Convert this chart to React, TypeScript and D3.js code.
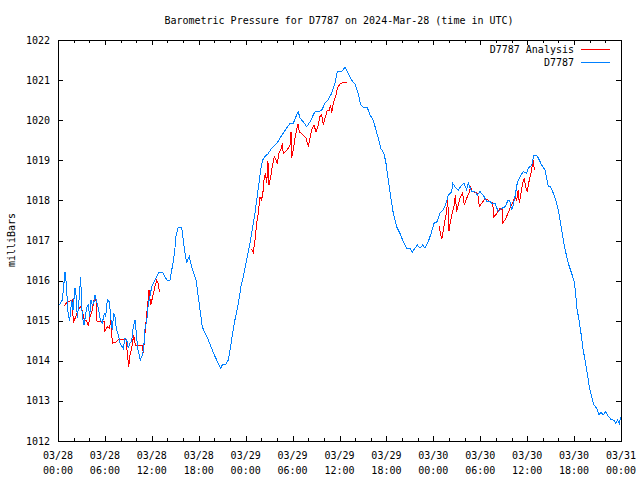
import React from "react";
import * as d3 from "d3";

// ---- data (time in hours since 2024-03-28 00:00 UTC, pressure in mbar) ----
const stationSeries: [number, number][] = [
  [0, 1015.40], [0.26, 1015.41], [0.55, 1015.52], [0.9, 1016.21], [1.02, 1016.01], [1.32, 1015.10], [1.5, 1015.02],
  [1.75, 1015.52], [1.92, 1015.27], [2.17, 1015.82], [2.34, 1015.60], [2.47, 1015.07], [2.69, 1015.52], [2.9, 1016.10],
  [3.03, 1015.32], [3.2, 1015.02], [3.32, 1014.89], [3.67, 1015.32], [3.87, 1015.39], [4.05, 1015.10], [4.22, 1015.52],
  [4.39, 1015.39], [4.6, 1015.47], [4.73, 1015.64], [4.9, 1015.52], [5.15, 1015.32], [5.41, 1015.02], [5.66, 1014.94],
  [5.92, 1015.18], [6.1, 1015.10], [6.3, 1015.52], [6.56, 1015.47], [6.78, 1015.02], [6.94, 1014.77], [7.12, 1015.20],
  [7.29, 1015.10], [7.46, 1014.81], [7.76, 1014.60], [7.93, 1014.44], [8.15, 1014.37], [8.35, 1014.31], [8.57, 1014.56],
  [8.79, 1014.52], [8.99, 1014.31], [9.21, 1014.44], [9.42, 1014.48], [9.63, 1014.85], [9.85, 1015.02], [10.01, 1014.69],
  [10.19, 1014.31], [10.52, 1014.02], [10.78, 1014.14], [10.96, 1014.31], [11.13, 1014.81], [11.34, 1014.98], [11.55, 1015.43],
  [11.76, 1015.60], [11.98, 1015.85], [12.28, 1015.97], [12.62, 1016.10], [12.92, 1016.21], [13.34, 1016.21], [13.68, 1016.10],
  [13.94, 1016.01], [14.32, 1016.01], [14.54, 1016.26], [14.74, 1016.47], [14.96, 1016.81], [15.05, 1017.09], [15.38, 1017.33],
  [15.82, 1017.33], [16.02, 1017.01], [16.24, 1016.68], [16.46, 1016.43], [16.66, 1016.56], [16.79, 1016.61], [16.97, 1016.43],
  [17.3, 1016.22], [17.65, 1016.01], [17.94, 1015.60], [18.16, 1015.27], [18.45, 1014.85], [18.8, 1014.69], [19.22, 1014.52],
  [19.65, 1014.31], [19.86, 1014.20], [20.29, 1014.02], [20.81, 1013.81], [21.06, 1013.92], [21.48, 1013.92], [21.78, 1014.02],
  [22, 1014.27], [22.34, 1014.69], [22.63, 1015.02], [23.06, 1015.43], [23.4, 1015.85], [23.79, 1016.18], [24.21, 1016.60],
  [24.55, 1016.93], [24.9, 1017.34], [25.19, 1017.68], [25.41, 1018.01], [25.7, 1018.43], [25.92, 1018.76], [26.18, 1019.01],
  [26.47, 1019.09], [26.89, 1019.17], [27.33, 1019.30], [27.97, 1019.42], [28.39, 1019.55], [28.9, 1019.71], [29.67, 1019.92],
  [30.09, 1019.92], [30.52, 1020.13], [30.73, 1020.21], [30.95, 1020.05], [31.37, 1019.96], [31.8, 1019.84], [32.23, 1019.96],
  [32.65, 1020.13], [32.86, 1020.21], [33.29, 1020.21], [33.72, 1020.25], [34.14, 1020.42], [34.57, 1020.52], [35, 1020.67],
  [35.42, 1020.92], [35.72, 1021.21], [36.28, 1021.21], [36.7, 1021.32], [37.12, 1021.17], [37.56, 1021.00], [37.98, 1020.90],
  [38.4, 1020.67], [38.71, 1020.38], [39.04, 1020.32], [39.55, 1020.32], [39.9, 1020.13], [40.32, 1020.00], [40.66, 1019.76],
  [40.96, 1019.55], [41.27, 1019.30], [41.69, 1019.17], [41.94, 1018.93], [42.24, 1018.51], [42.54, 1018.09], [42.88, 1017.68],
  [43.31, 1017.34], [43.73, 1017.18], [44.16, 1016.97], [44.59, 1016.81], [45.01, 1016.80], [45.31, 1016.71], [45.65, 1016.81],
  [45.95, 1016.89], [46.29, 1016.81], [46.64, 1016.89], [46.93, 1016.81], [47.35, 1016.97], [47.79, 1017.22], [48.08, 1017.43],
  [48.5, 1017.47], [48.85, 1017.68], [49.27, 1017.76], [49.62, 1017.93], [49.91, 1018.13], [50.35, 1018.22], [50.47, 1018.43],
  [50.77, 1018.34], [51.19, 1018.26], [51.62, 1018.38], [51.92, 1018.43], [52.26, 1018.26], [52.47, 1018.43], [52.9, 1018.22],
  [53.32, 1018.22], [53.62, 1018.13], [53.96, 1018.22], [54.39, 1018.13], [54.82, 1017.97], [55.24, 1017.97], [55.46, 1017.93],
  [55.88, 1017.93], [56.3, 1017.72], [56.74, 1017.80], [57.16, 1017.84], [57.58, 1018.01], [57.8, 1017.97], [58.02, 1017.76],
  [58.22, 1017.89], [58.44, 1018.09], [58.73, 1018.43], [59.08, 1018.59], [59.5, 1018.72], [59.94, 1018.68], [60.14, 1018.80],
  [60.58, 1018.88], [60.87, 1019.13], [61.21, 1019.13], [61.55, 1019.01], [61.85, 1018.88], [62.28, 1018.76], [62.7, 1018.34],
  [63, 1018.34], [63.34, 1018.18], [63.77, 1017.93], [64.1, 1017.64], [64.62, 1017.01], [64.96, 1016.68], [65.26, 1016.43],
  [65.69, 1016.18], [66.02, 1015.97], [66.2, 1015.68], [66.33, 1015.35], [66.62, 1015.02], [66.88, 1014.69], [67.1, 1014.35],
  [67.39, 1014.02], [67.69, 1013.69], [67.94, 1013.35], [68.25, 1013.10], [68.54, 1012.90], [68.89, 1012.82], [69.18, 1012.65],
  [69.44, 1012.72], [69.73, 1012.65], [70.04, 1012.73], [70.37, 1012.62], [70.72, 1012.54], [71.1, 1012.51], [71.36, 1012.44],
  [71.57, 1012.52], [71.78, 1012.44], [71.96, 1012.59],
];

const analysisSeg1: [number, number][] = [
  [0.81, 1015.37], [1.11, 1015.45], [1.53, 1015.49], [1.83, 1015.52], [1.96, 1014.94], [2.26, 1015.10], [2.6, 1015.27],
  [2.9, 1015.35], [3.11, 1015.25], [3.36, 1015.02], [3.67, 1014.99], [3.88, 1014.87], [4.09, 1015.10], [4.39, 1015.27],
  [4.6, 1015.52], [4.73, 1015.62], [4.9, 1015.47], [4.99, 1014.99], [5.92, 1014.99], [6.01, 1014.74], [6.3, 1014.85],
  [6.56, 1014.81], [6.78, 1015.02], [6.94, 1014.44], [7.29, 1014.45], [7.71, 1014.52], [8.15, 1014.54], [8.57, 1014.52],
  [8.7, 1014.54], [8.91, 1014.10], [9.04, 1013.85], [9.21, 1014.14], [9.42, 1014.31], [9.68, 1014.64], [9.85, 1014.44],
  [9.97, 1014.37], [10.78, 1014.37], [10.91, 1014.19], [11.13, 1014.69], [11.34, 1015.14], [11.64, 1015.77], [11.85, 1015.39],
  [12.11, 1015.60], [12.4, 1015.85], [12.62, 1016.01], [12.83, 1015.93], [12.96, 1015.72],
];

const analysisSeg2: [number, number][] = [
  [24.77, 1016.78], [24.97, 1016.70], [25.19, 1017.01], [25.41, 1017.43], [25.61, 1017.68], [25.83, 1018.09], [26, 1018.01],
  [26.18, 1018.13], [26.34, 1018.51], [26.51, 1018.68], [26.69, 1018.43], [26.85, 1018.97], [26.98, 1018.38], [27.2, 1018.59],
  [27.4, 1018.84], [27.66, 1019.09], [27.88, 1019.01], [28.04, 1018.93], [28.26, 1019.17], [28.48, 1019.26], [28.69, 1019.42],
  [28.81, 1019.17], [29.24, 1019.24], [29.67, 1019.38], [29.8, 1019.71], [29.88, 1019.05], [30.09, 1019.26], [30.31, 1019.55],
  [30.52, 1019.76], [30.69, 1019.91], [30.86, 1019.71], [31.37, 1019.63], [31.71, 1019.55], [32.01, 1019.36], [32.23, 1019.55],
  [32.44, 1019.76], [32.74, 1019.88], [32.99, 1019.71], [33.29, 1019.88], [33.5, 1020.09], [33.72, 1020.13], [33.93, 1019.88],
  [34.14, 1020.05], [34.44, 1020.25], [34.69, 1020.25], [34.87, 1020.38], [35, 1020.17], [35.2, 1020.42], [35.51, 1020.59],
  [35.72, 1020.80], [36.06, 1020.90], [36.48, 1020.94], [37, 1020.94],
];

const analysisSeg3: [number, number][] = [
  [48.76, 1017.36], [48.94, 1017.14], [49.07, 1017.03], [49.27, 1017.26], [49.49, 1017.51], [49.71, 1017.72], [49.83, 1018.05],
  [50, 1017.24], [50.22, 1017.51], [50.42, 1017.68], [50.68, 1017.89], [50.81, 1018.13], [50.98, 1017.72], [51.19, 1017.89],
  [51.41, 1018.05], [51.75, 1018.18], [51.96, 1017.89], [52.26, 1018.05], [52.56, 1018.18], [52.77, 1018.33], [52.98, 1018.22],
  [53.62, 1018.18], [53.75, 1018.09], [53.88, 1017.84], [54.18, 1017.93], [54.48, 1018.01], [54.82, 1018.03], [55.24, 1017.97],
  [55.59, 1017.94], [55.75, 1017.59], [56.18, 1017.69], [56.52, 1017.80], [56.78, 1017.78], [56.87, 1017.44], [57.16, 1017.51],
  [57.46, 1017.64], [57.71, 1017.76], [58.02, 1017.89], [58.22, 1017.97], [58.44, 1018.09], [58.66, 1018.01], [58.86, 1018.26],
  [58.99, 1017.93], [59.21, 1018.18], [59.42, 1018.43], [59.63, 1018.55], [59.81, 1018.34], [60.02, 1018.22], [60.27, 1018.51],
  [60.49, 1018.68], [60.66, 1018.88], [60.79, 1019.01], [60.91, 1018.76],
];

const yTicks = [1012, 1013, 1014, 1015, 1016, 1017, 1018, 1019, 1020, 1021, 1022];
const xMajorHours = [0, 6, 12, 18, 24, 30, 36, 42, 48, 54, 60, 66, 72];
const xTickDates = ["03/28", "03/28", "03/28", "03/28", "03/29", "03/29", "03/29", "03/29", "03/30", "03/30", "03/30", "03/30", "03/31"];
const xTickTimes = ["00:00", "06:00", "12:00", "18:00", "00:00", "06:00", "12:00", "18:00", "00:00", "06:00", "12:00", "18:00", "00:00"];
const xMinorHours = d3.range(0, 73, 2).filter((h) => h % 6 !== 0);

const titleText = "Barometric Pressure for D7787 on 2024-Mar-28 (time in UTC)";
const yLabel = "milliBars";
const seriesNames = ["D7787 Analysis", "D7787"];

const RED = "#ff0000";
const BLUE = "#0080ff";
const FONT = "'DejaVu Sans Mono', 'Liberation Mono', monospace";

export default function App() {
  const W = 640, H = 480;
  const left = 58, right = 621, top = 40, bottom = 441;
  const x = d3.scaleLinear().domain([0, 72]).range([left, right]);
  const y = d3.scaleLinear().domain([1012, 1022]).range([bottom, top]);
  const line = d3.line<[number, number]>().x((d) => x(d[0])).y((d) => y(d[1]));
  const majorLen = 5, minorLen = 3;

  return (
    <svg width={W} height={H} style={{ position: "absolute", left: 0, top: 0, background: "#fff" }} fontFamily={FONT} fontSize={10}>
      <rect x={0} y={0} width={W} height={H} fill="#fff" />
      <text x={339} y={24} textAnchor="middle" fill="#000">{titleText}</text>
      <text transform={`translate(15,240) rotate(-90)`} textAnchor="middle" fill="#000">{yLabel}</text>

      {/* y ticks */}
      {yTicks.map((v) => (
        <g key={"y" + v} shapeRendering="crispEdges">
          <line x1={left} x2={left + majorLen} y1={Math.round(y(v)) + 0.5} y2={Math.round(y(v)) + 0.5} stroke="#000" />
          <line x1={right - majorLen} x2={right} y1={Math.round(y(v)) + 0.5} y2={Math.round(y(v)) + 0.5} stroke="#000" />
          <text x={50} y={y(v) + 3.5} textAnchor="end" fill="#000">{v}</text>
        </g>
      ))}
      {/* x ticks */}
      {xMajorHours.map((h, i) => (
        <g key={"x" + h} shapeRendering="crispEdges">
          <line x1={Math.round(x(h)) + 0.5} x2={Math.round(x(h)) + 0.5} y1={bottom} y2={bottom - majorLen} stroke="#000" />
          <line x1={Math.round(x(h)) + 0.5} x2={Math.round(x(h)) + 0.5} y1={top} y2={top + majorLen} stroke="#000" />
          <text x={x(h)} y={459} textAnchor="middle" fill="#000">{xTickDates[i]}</text>
          <text x={x(h)} y={474} textAnchor="middle" fill="#000">{xTickTimes[i]}</text>
        </g>
      ))}
      {xMinorHours.map((h) => (
        <g key={"m" + h} shapeRendering="crispEdges">
          <line x1={Math.round(x(h)) + 0.5} x2={Math.round(x(h)) + 0.5} y1={bottom} y2={bottom - minorLen} stroke="#000" />
          <line x1={Math.round(x(h)) + 0.5} x2={Math.round(x(h)) + 0.5} y1={top} y2={top + minorLen} stroke="#000" />
        </g>
      ))}

      {/* series */}
      <g fill="none" strokeWidth={1} shapeRendering="crispEdges">
        {[analysisSeg1, analysisSeg2, analysisSeg3].map((seg, i) => (
          <path key={"a" + i} d={line(seg) || ""} stroke={RED} />
        ))}
        <path d={line(stationSeries) || ""} stroke={BLUE} />
      </g>

      {/* border */}
      <rect x={left + 0.5} y={top + 0.5} width={right - left} height={bottom - top} fill="none" stroke="#000" shapeRendering="crispEdges" />

      {/* legend */}
      <text x={574} y={53} textAnchor="end" fill="#000">{seriesNames[0]}</text>
      <line x1={581} x2={610} y1={49.5} y2={49.5} stroke={RED} shapeRendering="crispEdges" />
      <text x={574} y={66} textAnchor="end" fill="#000">{seriesNames[1]}</text>
      <line x1={581} x2={610} y1={62.5} y2={62.5} stroke={BLUE} shapeRendering="crispEdges" />
    </svg>
  );
}
